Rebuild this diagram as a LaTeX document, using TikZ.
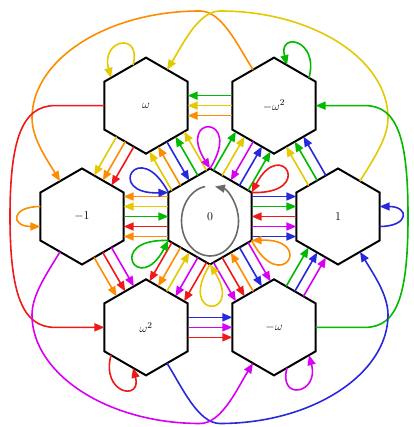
\documentclass[tikz,border=0pt]{standalone}
\usetikzlibrary{calc,arrows.meta}
\definecolor{cred}{RGB}{240,25,25}
\definecolor{corange}{RGB}{255,140,0}
\definecolor{cyellow}{RGB}{228,200,0}
\definecolor{cgreen}{RGB}{0,185,0}
\definecolor{cblue}{RGB}{40,40,220}
\definecolor{cmag}{RGB}{215,0,245}
\definecolor{cgray}{RGB}{105,105,105}
\newcommand\cnR[4]{\draw[arr,color=#4] ($(#1)!41.57pt!(#2)!#3!-90:(#2)$) -- ($(#2)!41.57pt!(#1)!#3!90:(#1)$);}
\newcommand\cnL[4]{\draw[arr,color=#4] ($(#1)!41.57pt!(#2)!#3!90:(#2)$) -- ($(#2)!41.57pt!(#1)!#3!-90:(#1)$);}
\newcommand\cnC[3]{\draw[arr,color=#3] ($(#1)!41.57pt!(#2)$) -- ($(#2)!41.57pt!(#1)$);}
\begin{document}
\begin{tikzpicture}[x=1pt,y=1pt,
 hexline/.style={draw=black,fill=white,line width=2pt,line join=miter},
 lab/.style={inner sep=0pt,font=\fontsize{13}{15}\selectfont},
 arr/.style={line width=1.6pt,-{Triangle[length=10pt,width=8pt]}},
]
\useasboundingbox (0,0) rectangle (413,427);
\coordinate (c0) at (210,210.5);
\coordinate (c1) at ($(c0)+(0:128)$);
\coordinate (cA) at ($(c0)+(60:128)$);
\coordinate (cB) at ($(c0)+(120:128)$);
\coordinate (cC) at ($(c0)+(180:128)$);
\coordinate (cD) at ($(c0)+(240:128)$);
\coordinate (cE) at ($(c0)+(300:128)$);
\foreach \c in {c0,c1,cA,cB,cC,cD,cE}
  \draw[hexline] (\c) ++(90:48) -- ++(210:48) -- ++(270:48) -- ++(330:48) -- ++(30:48) -- ++(90:48) -- cycle;
\node[lab] (n0) at (c0) {$0$};
\node[lab] (n1) at (c1) {$1$};
\node[lab] (nA) at (cA) {$-\omega^2$};
\node[lab] (nB) at (cB) {$\omega$};
\node[lab] (nC) at (cC) {$-1$};
\node[lab] (nD) at (cD) {$\omega^2$};
\node[lab] (nE) at (cE) {$-\omega$};
% bundles between 0 and its neighbours
\foreach \v/\own/\nx/\bk/\pv in {n1/cblue/cmag/cred/cgreen, nA/cgreen/cblue/cmag/cyellow, nB/cyellow/cgreen/cblue/corange, nC/corange/cyellow/cgreen/cred, nD/cred/corange/cyellow/cmag, nE/cmag/cred/corange/cblue}{
  \cnR{n0}{\v}{20pt}{\own}
  \cnR{n0}{\v}{10pt}{\nx}
  \cnC{\v}{n0}{\bk}
  \cnL{n0}{\v}{10pt}{\pv}
  \cnL{n0}{\v}{20pt}{\own}
}
% outer ring
\cnR{n1}{nA}{10pt}{cblue} \cnC{n1}{nA}{cgreen} \cnL{n1}{nA}{10pt}{cyellow}
\cnR{nA}{nB}{10pt}{cgreen} \cnC{nA}{nB}{cyellow} \cnL{nA}{nB}{10pt}{corange}
\cnR{nB}{nC}{10pt}{cyellow} \cnC{nB}{nC}{corange} \cnL{nB}{nC}{10pt}{cred}
\cnR{nC}{nD}{10pt}{corange} \cnC{nC}{nD}{cred} \cnL{nC}{nD}{10pt}{cmag}
\cnR{nD}{nE}{10pt}{cred} \cnC{nD}{nE}{cmag} \cnL{nD}{nE}{10pt}{cblue}
\cnR{nE}{n1}{10pt}{cmag} \cnC{nE}{n1}{cblue} \cnL{nE}{n1}{10pt}{cgreen}
% loops at the corners of 0
\foreach \a/\c in {150/cblue, 90/cmag, 30/cred, -30/corange, -90/cyellow, -150/cgreen}
  \draw[arr,color=\c] ($(n0)+(\a:48)$) .. controls +(\a-32:64) and +(\a+32:64) .. ($(n0)+(\a:48)$);
% gray loop of 0
\draw[arr,color=cgray] ($(n0)+(-4.95,29.97)$) arc[start angle=100,end angle=440,x radius=28.5,y radius=35];
% loops of the outer nodes
\draw[arr,color=corange] ($(nC)+(-41.57,10)$) .. controls +(180:30) and +(180:30) .. ($(nC)+(-41.57,-10)$);
\draw[arr,color=cblue] ($(n1)+(41.57,-10)$) .. controls +(0:30) and +(0:30) .. ($(n1)+(41.57,10)$);
\draw[arr,color=cyellow] ($(nB)+(-13,40.5)$) .. controls +(75:35) and +(105:40) .. ($(nB)+(-35,27.8)$);
\draw[arr,color=cgreen] ($(nA)+(35,27.8)$) .. controls +(75:40) and +(105:35) .. ($(nA)+(13,40.5)$);
\draw[arr,color=cred] ($(nD)+(-35,-27.8)$) .. controls +(-105:40) and +(-75:35) .. ($(nD)+(-13,-40.5)$);
\draw[arr,color=cmag] ($(nE)+(13,-40.5)$) .. controls +(-105:35) and +(-75:40) .. ($(nE)+(35,-27.8)$);
% long outer curves
\draw[arr,color=corange] ($(nA)+(-21,35.9)$) .. controls (238,381) and (222,416) .. (200,416) .. controls (107,416) and (32,367.5) .. (32,309) .. controls (32,289) and (46,269) .. ($(nC)+(-22,35.3)$);
\draw[arr,color=cyellow] ($(n1)+(22,35.3)$) .. controls (374,269) and (388,289) .. (388,309) .. controls (388,367.5) and (313,416) .. (220,416) .. controls (198,416) and (182,381) .. ($(nB)+(21,35.9)$);
\draw[arr,color=cred] ($(nB)+(-41.57,0)$) -- (55,321.4) .. controls (22,321.4) and (10,287) .. (10,210.5) .. controls (10,134) and (22,99.6) .. (55,99.6) -- ($(nD)+(-41.57,0)$);
\draw[arr,color=cgreen] ($(nE)+(41.57,0)$) -- (365,99.6) .. controls (398,99.6) and (408,134) .. (408,210.5) .. controls (408,287) and (398,321.4) .. (365,321.4) -- ($(nA)+(41.57,0)$);
\draw[arr,color=cblue] ($(nD)+(21,-35.9)$) .. controls (182,40) and (198,3.5) .. (220,3.5) .. controls (313,3.5) and (388,53.5) .. (388,112) .. controls (388,132) and (374,152) .. ($(n1)+(22,-35.3)$);
\draw[arr,color=cmag] ($(nC)+(-22,-35.3)$) .. controls (46,152) and (32,132) .. (32,112) .. controls (32,53.5) and (107,3.5) .. (200,3.5) .. controls (222,3.5) and (238,40) .. ($(nE)+(-21,-35.9)$);
\end{tikzpicture}
\end{document}
